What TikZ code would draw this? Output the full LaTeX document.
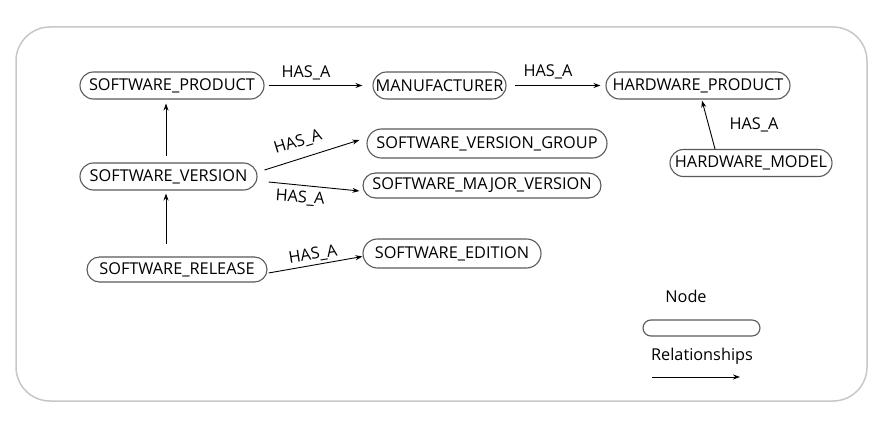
\documentclass[tikz,border=0pt]{standalone}
\usepackage{fontspec}
\setmainfont{Open Sans}
\usetikzlibrary{shapes.misc,arrows.meta}
\begin{document}
\begin{tikzpicture}[x=1pt,y=-1pt,
  ent/.style={rounded rectangle, draw=black!65, line width=1.1pt, inner sep=0pt,
     minimum height=27pt, font=\fontsize{16.3}{19}\selectfont, text=black},
  rel/.style={draw=black, line width=0.9pt, -{Stealth[length=7pt,width=5pt]}},
  lbl/.style={font=\fontsize{16.3}{19}\selectfont, text=black, inner sep=0pt}]
\useasboundingbox (0,0) rectangle (887,433);
\draw[black!22, line width=1.5pt, rounded corners=34pt] (16,27) rectangle (867,401);
% nodes
\node[ent, minimum width=184pt] (sp) at (172,85.5) {SOFTWARE\_PRODUCT};
\node[ent, minimum width=133pt] (man) at (439.5,85.5) {MANUFACTURER};
\node[ent, minimum width=184pt] (hp) at (698,85.5) {HARDWARE\_PRODUCT};
\node[ent, minimum width=162pt] (hm) at (751,163) {HARDWARE\_MODEL};
\node[ent, minimum width=240pt, minimum height=29pt] (svg) at (487,143.5) {SOFTWARE\_VERSION\_GROUP};
\node[ent, minimum width=238pt, minimum height=25pt] (smv) at (482,185.5) {SOFTWARE\_MAJOR\_VERSION};
\node[ent, minimum width=177pt] (sv) at (168.5,176.5) {SOFTWARE\_VERSION};
\node[ent, minimum width=180pt, minimum height=25pt] (sr) at (177,269.5) {SOFTWARE\_RELEASE};
\node[ent, minimum width=178pt, minimum height=29pt] (se) at (452,253.5) {SOFTWARE\_EDITION};
% relationships
\draw[rel] ([shift={(4,0)}]sp.east) -- ([shift={(-10,0)}]man.west);
\node[lbl] (l1) at (306,73) {HAS\_A};
\draw[rel] ([shift={(8,0)}]man.east) -- ([shift={(-5,0)}]hp.west);
\node[lbl] (l2) at (548,72) {HAS\_A};
\draw[rel] ([shift={(-36,0)}]hm.north) -- ([shift={(4,1)}]hp.south);
\node[lbl] (l3) at (754,125) {HAS\_A};
\draw[rel] ([shift={(-2.5,-6)}]sv.north) -- ([shift={(-6,4)}]sp.south);
\draw[rel] ([shift={(-11,-12)}]sr.north) -- ([shift={(-2.5,3)}]sv.south);
\draw[rel] ([shift={(7,-6.5)}]sv.east) -- ([shift={(-7,-3.5)}]svg.west);
\node[lbl, rotate=17] (l4) at (298,142) {HAS\_A};
\draw[rel] ([shift={(11,5.5)}]sv.east) -- ([shift={(-3,5.5)}]smv.west);
\node[lbl, rotate=-4] (l5) at (300,198) {HAS\_A};
\draw[rel] ([shift={(1,3.5)}]sr.east) -- ([shift={(0,3)}]se.west);
\node[lbl, rotate=9] (l6) at (313,255) {HAS\_A};
% legend
\node[lbl] (lgn) at (686,296) {Node};
\node[ent, minimum width=117pt, minimum height=16pt] (lgbox) at (701.5,328) {};
\node[lbl] (lgr) at (702,356) {Relationships};
\coordinate (la) at (652,377);
\coordinate (lb) at (740,377);
\draw[rel] (la) -- (lb);
\end{tikzpicture}
\end{document}
